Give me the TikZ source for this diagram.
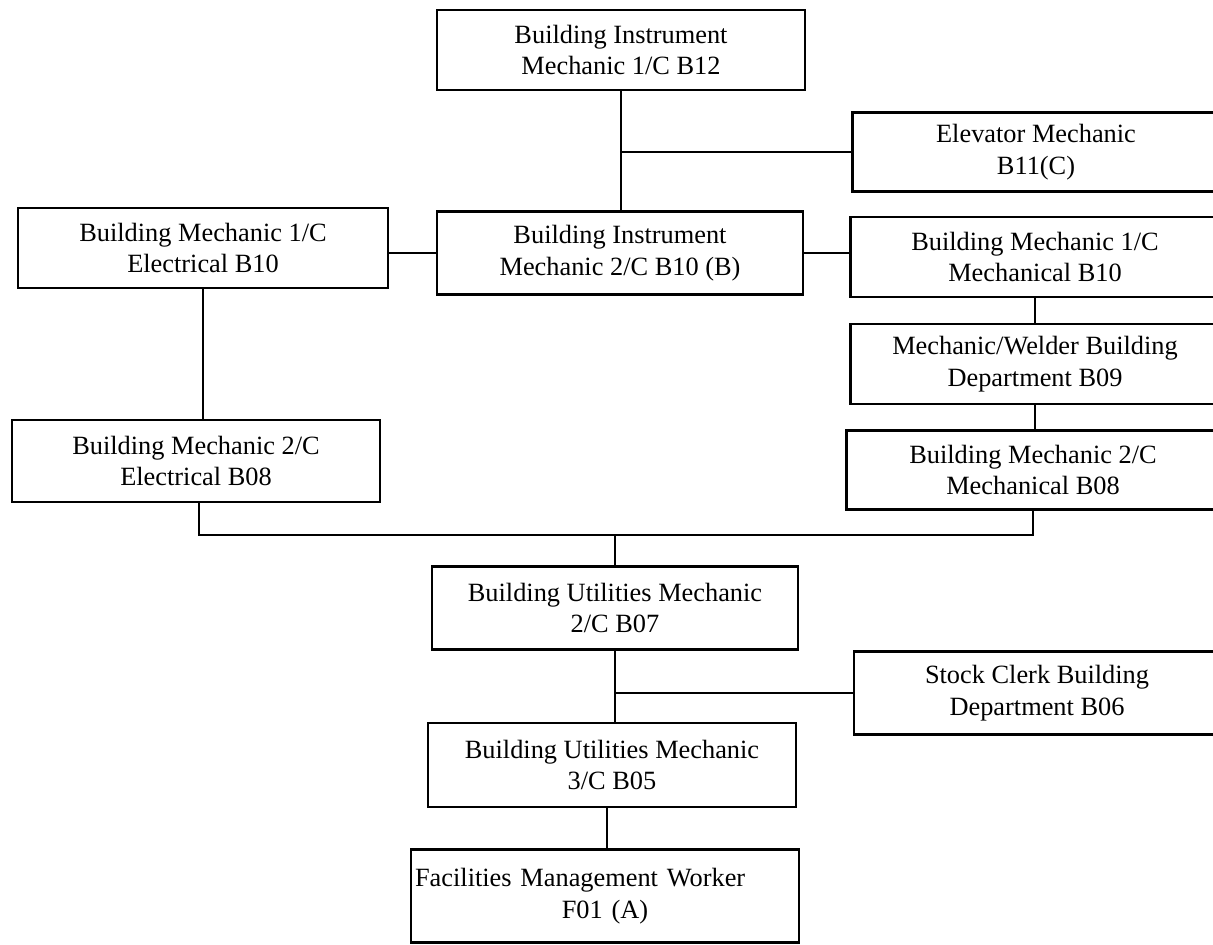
\documentclass[tikz,border=0pt]{standalone}
\usepackage{fontspec}
\setmainfont{Liberation Serif}
\begin{document}
\begin{tikzpicture}[x=0.02cm,y=-0.02cm,
  box/.style={draw, line width=1.2pt, rectangle, inner sep=0pt, align=center,
    font=\fontsize{15}{18}\selectfont},
  link/.style={line width=1.1pt}]
\useasboundingbox (0,0) rectangle (1213,945);
\clip (0,0) rectangle (1213,945);
\node[box, minimum width=7.36cm, minimum height=1.60cm] (b1) at (621,50) {Building Instrument\\Mechanic 1/C B12};
\node[box, minimum width=7.34cm, minimum height=1.58cm] (elev) at (1036,152) {Elevator Mechanic\\B11(C)};
\node[box, minimum width=7.40cm, minimum height=1.60cm] (b3) at (203,248) {Building Mechanic 1/C\\Electrical B10};
\node[box, minimum width=7.32cm, minimum height=1.66cm] (b4) at (620,253) {Building Instrument\\Mechanic 2/C B10 (B)};
\node[box, minimum width=7.38cm, minimum height=1.60cm] (b5) at (1035,257) {Building Mechanic 1/C\\Mechanical B10};
\node[box, minimum width=7.38cm, minimum height=1.60cm] (b6) at (1035,364) {Mechanic/Welder Building\\Department B09};
\node[box, minimum width=7.36cm, minimum height=1.64cm] (b7) at (196,461) {Building Mechanic 2/C\\Electrical B08};
\node[box, minimum width=7.46cm, minimum height=1.58cm] (b8) at (1033,470) {Building Mechanic 2/C\\Mechanical B08};
\node[box, minimum width=7.32cm, minimum height=1.66cm] (b9) at (615,608) {Building Utilities Mechanic\\2/C B07};
\node[box, minimum width=7.32cm, minimum height=1.66cm] (stock) at (1037,693) {Stock Clerk Building\\Department B06};
\node[box, minimum width=7.36cm, minimum height=1.68cm] (b11) at (612,765) {Building Utilities Mechanic\\3/C B05};
\node[box, minimum width=7.76cm, minimum height=1.86cm, text width=7.6cm] (b12) at (605,896) {\makebox[7.6cm][l]{Facilities Management Worker}\\F01 (A)};
% connectors
\coordinate (j1) at (b1.south |- elev.west);
\coordinate (bus) at (616,535);
\coordinate (j2) at (b9.south |- stock.west);
\coordinate (e7) at ([xshift=0.06cm]b7.south);
\coordinate (e12) at ([xshift=-0.1cm]b11.south);
\draw[link] (b1.south) -- (b1.south |- b4.north);
\draw[link] (j1) -- (elev.west);
\draw[link] (b4.west) -- (b4.west -| b3.east);
\draw[link] (b4.east) -- (b4.east -| b5.west);
\draw[link] (b3.south) -- (b3.south |- b7.north);
\draw[link] (b5.south) -- (b5.south |- b6.north);
\draw[link] (b6.south) -- (b6.south |- b8.north);
\draw[link] (e7) |- (b8.south |- bus) -- (b8.south);
\draw[link] (b9.north |- bus) -- (b9.north);
\draw[link] (b9.south) -- (b9.south |- b11.north);
\draw[link] (j2) -- (stock.west);
\draw[link] (e12) -- (e12 |- b12.north);
\end{tikzpicture}
\end{document}
